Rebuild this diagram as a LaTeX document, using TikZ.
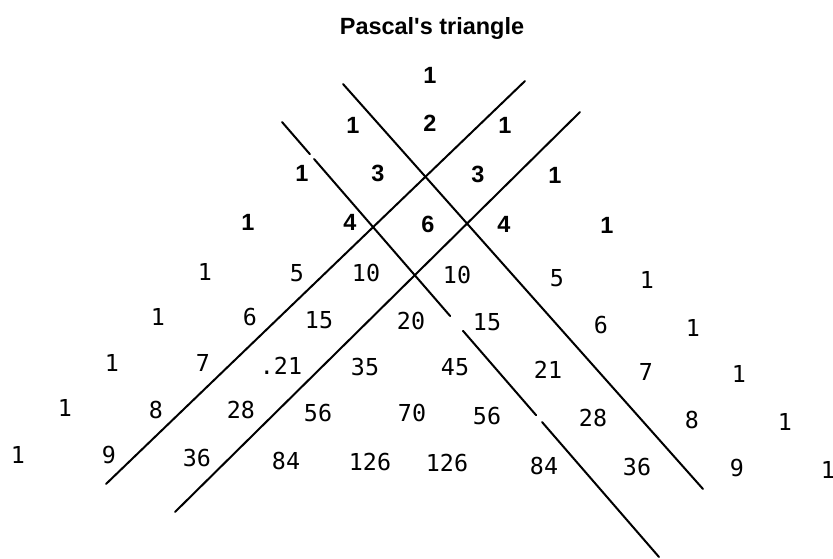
\documentclass[tikz,border=0pt]{standalone}
\usepackage{fontspec}
\newfontfamily\numfont{DejaVu Sans Mono}
\newfontfamily\hvfont{Liberation Sans}
\usetikzlibrary{calc}
\begin{document}
\begin{tikzpicture}[x=0.75pt,y=-0.75pt,
  bnum/.style={inner sep=0pt, font=\hvfont\bfseries\fontsize{17.6}{20}\selectfont},
  mnum/.style={inner sep=0pt, font=\numfont\fontsize{17.5}{20}\selectfont},
  rule/.style={line width=1.5pt, line cap=round}]
\useasboundingbox[fill=white] (0,0) rectangle (833,558);
\node[bnum, anchor=base] (title) at (432,34) {Pascal's triangle};
% row 0
\node[bnum] (r0a) at (430,75) {1};
% row 1
\node[bnum] (r1a) at (353,125) {1};
\node[bnum] (r1b) at (430,123) {2};
\node[bnum] (r1c) at (505,125) {1};
% row 2
\node[bnum] (r2a) at (302,173) {1};
\node[bnum] (r2b) at (378,173) {3};
\node[bnum] (r2c) at (478,174) {3};
\node[bnum] (r2d) at (555,175) {1};
% row 3
\node[bnum] (r3a) at (248,222) {1};
\node[bnum] (r3b) at (350,222) {4};
\node[bnum] (r3c) at (428,224) {6};
\node[bnum] (r3d) at (504,224) {4};
\node[bnum] (r3e) at (607,225) {1};
% row 4
\node[mnum] (r4a) at (205,272) {1};
\node[mnum] (r4b) at (297,273) {5};
\node[mnum] (r4c) at (366,273) {10};
\node[mnum] (r4d) at (457,275) {10};
\node[mnum] (r4e) at (557,278) {5};
\node[mnum] (r4f) at (647,280) {1};
% row 5
\node[mnum] (r5a) at (158,317) {1};
\node[mnum] (r5b) at (250,317) {6};
\node[mnum] (r5c) at (319,320) {15};
\node[mnum] (r5d) at (411,321) {20};
\node[mnum] (r5e) at (487,322) {15};
\node[mnum] (r5f) at (601,325) {6};
\node[mnum] (r5g) at (693,328) {1};
% row 6
\node[mnum] (r6a) at (112,363) {1};
\node[mnum] (r6b) at (203,363) {7};
\node[mnum] (r6c) at (281,366) {.21};
\node[mnum] (r6d) at (365,367) {35};
\node[mnum] (r6e) at (455,367) {45};
\node[mnum] (r6f) at (548,370) {21};
\node[mnum] (r6g) at (646,372) {7};
\node[mnum] (r6h) at (739,374) {1};
% row 7
\node[mnum] (r7a) at (65,408) {1};
\node[mnum] (r7b) at (156,410) {8};
\node[mnum] (r7c) at (241,410) {28};
\node[mnum] (r7d) at (318,413) {56};
\node[mnum] (r7e) at (412,413) {70};
\node[mnum] (r7f) at (487,416) {56};
\node[mnum] (r7g) at (593,418) {28};
\node[mnum] (r7h) at (692,420) {8};
\node[mnum] (r7i) at (785,422) {1};
% row 8
\node[mnum] (r8a) at (18,455) {1};
\node[mnum] (r8b) at (109,455) {9};
\node[mnum] (r8c) at (197,458) {36};
\node[mnum] (r8d) at (286,461) {84};
\node[mnum] (r8e) at (370,462) {126};
\node[mnum] (r8f) at (447,463) {126};
\node[mnum] (r8g) at (544,466) {84};
\node[mnum] (r8h) at (637,467) {36};
\node[mnum] (r8i) at (737,468) {9};
\node[mnum] (r8j) at (828,470) {1};
% lines
\coordinate (a1) at (343,84);  \coordinate (a2) at (703,489);
\coordinate (b1) at (282,122); \coordinate (b2) at (659,557);
\coordinate (c1) at (525,81);  \coordinate (c2) at (106,484);
\coordinate (d1) at (580,112); \coordinate (d2) at (175,512);
\draw[rule] (a1) -- (a2);
\draw[rule] (c1) -- (c2);
\draw[rule] (d1) -- (d2);
\draw[rule] (b1) -- ($(b1)!0.074!(b2)$)
  ($(b1)!0.085!(b2)$) -- ($(b1)!0.446!(b2)$)
  ($(b1)!0.480!(b2)$) -- ($(b1)!0.674!(b2)$)
  ($(b1)!0.690!(b2)$) -- (b2);
\end{tikzpicture}
\end{document}
